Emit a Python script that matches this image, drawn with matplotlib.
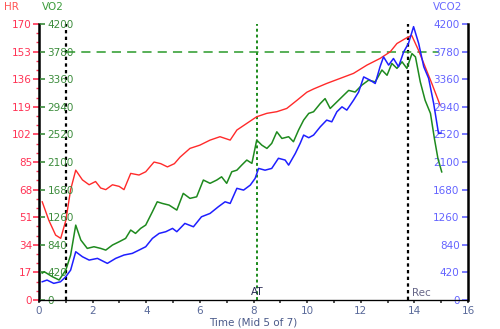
import matplotlib
matplotlib.use("Agg")
import matplotlib.pyplot as plt
from matplotlib.ticker import MultipleLocator, AutoMinorLocator

# data (time in minutes)
hr_t = [0.12, 0.37, 0.62, 0.81, 1.0, 1.18, 1.37, 1.62, 1.87, 2.11, 2.30, 2.49, 2.74, 2.99, 3.17,
        3.42, 3.73, 3.98, 4.29, 4.54, 4.79, 5.05, 5.26, 5.63, 6.0, 6.38, 6.75, 7.13, 7.38, 7.75,
        8.12, 8.5, 8.87, 9.24, 9.62, 9.99, 10.24, 10.73, 11.23, 11.73, 12.23, 12.72, 13.1, 13.35,
        13.66, 13.9, 14.15, 14.4, 14.65, 14.96]
hr = [60.5, 49, 40, 38, 49, 68, 80, 74, 71, 73, 69, 68, 71, 70, 68,
      78, 77, 79, 85, 84, 82, 84, 88, 93.4, 95.4, 98.5, 100.6, 98.5, 104.7, 108.8,
      112.9, 115, 116, 118, 123, 128, 130, 133.4, 136.5, 139.6, 144.7, 148.8, 152.9, 158,
      161, 163, 154, 143.7, 133.4, 120]

vo2_t = [0.12, 0.2, 0.5, 0.75, 1.0, 1.18, 1.37, 1.56, 1.80, 2.05, 2.30, 2.49, 2.74, 2.99, 3.23,
         3.42, 3.60, 3.79, 3.98, 4.23, 4.41, 4.60, 4.85, 5.14, 5.38, 5.63, 5.88, 6.13, 6.38, 6.63,
         6.81, 7.0, 7.19, 7.38, 7.56, 7.75, 7.94, 8.12, 8.31, 8.5, 8.68, 8.87, 9.06, 9.31, 9.49,
         9.68, 9.87, 10.06, 10.24, 10.49, 10.67, 10.86, 11.11, 11.36, 11.55, 11.79, 12.04, 12.29,
         12.54, 12.79, 12.98, 13.16, 13.35, 13.54, 13.72, 13.91, 14.04, 14.22, 14.4, 14.6, 14.75,
         14.88, 15.02]
vo2 = [410, 430, 355, 305, 456, 685, 1140, 913, 786, 811, 786, 760, 837, 887, 938,
       1065, 1014, 1090, 1141, 1344, 1495, 1470, 1445, 1369, 1623, 1547, 1571, 1826, 1776, 1826,
       1875, 1776, 1952, 1976, 2053, 2130, 2080, 2434, 2357, 2307, 2384, 2560, 2459, 2485, 2409,
       2586, 2738, 2840, 2865, 2990, 3065, 2915, 3015, 3115, 3190, 3165, 3270, 3345,
       3320, 3500, 3420, 3600, 3525, 3625, 3525, 3750, 3700, 3320, 3040, 2840, 2450,
       2150, 1950]

vco2_t = [0.12, 0.3, 0.55, 0.8, 1.0, 1.18, 1.37, 1.62, 1.87, 2.18, 2.55, 2.86, 3.17, 3.48, 3.73,
          3.98, 4.23, 4.48, 4.73, 4.98, 5.14, 5.44, 5.76, 6.06, 6.38, 6.69, 6.94, 7.13, 7.38, 7.63,
          7.88, 8.06, 8.19, 8.43, 8.68, 8.93, 9.18, 9.31, 9.56, 9.74, 9.87, 10.06, 10.24, 10.49,
          10.73, 10.92, 11.11, 11.3, 11.48, 11.73, 11.92, 12.11, 12.35, 12.54, 12.72, 12.85, 13.04,
          13.22, 13.41, 13.6, 13.78, 13.97, 14.16, 14.35, 14.53, 14.72, 14.9, 14.98]
vco2 = [278, 304, 254, 278, 355, 456, 735, 659, 608, 634, 558, 634, 685, 710, 760,
        811, 938, 1014, 1040, 1090, 1040, 1166, 1115, 1267, 1318, 1420, 1495, 1470, 1700, 1673,
        1749, 1851, 2003, 1976, 2003, 2157, 2130, 2053, 2231, 2384, 2510, 2470, 2510, 2636,
        2738, 2712, 2865, 2940, 2890, 3040, 3165, 3395, 3345, 3295, 3550, 3700, 3575,
        3675, 3550, 3775, 3905, 4160, 3905, 3550, 3375, 2990, 2535, 2540]

hr_ticks = [0, 17, 34, 51, 68, 85, 102, 119, 136, 153, 170]
gas_ticks = [0, 420, 840, 1260, 1680, 2100, 2520, 2940, 3360, 3780, 4200]
x_ticks = [0, 2, 4, 6, 8, 10, 12, 14, 16]

ex_start, at_time, rec_start = 1.0, 8.13, 13.78
hr_ref = 153

RED = '#ff2a2a'
GREEN = '#1e8a1e'
BLUE = '#1f1fff'

fig = plt.figure(figsize=(5, 3.29), dpi=100)
ax = fig.add_axes([0.078, 0.088, 0.858, 0.839])
ax_g = ax.twinx()
ax_v = ax.twinx()

ax.set_xlim(0, 16)
ax.set_ylim(0, 170)
ax_g.set_ylim(0, 4200)
ax_v.set_ylim(0, 4200)

for a in (ax, ax_g, ax_v):
    a.spines['top'].set_visible(False)
    a.patch.set_visible(False)
ax.spines['left'].set_linewidth(1.8)
ax_v.spines['right'].set_linewidth(1.8)
ax.spines['right'].set_visible(False)
ax_g.spines['right'].set_visible(False)
ax_g.spines['left'].set_visible(False)

# markers
ax.axvline(ex_start, color='black', ls=(0, (1.5, 1.5)), lw=1.6)
ax.axvline(rec_start, color='black', ls=(0, (1.5, 1.5)), lw=1.6)
ax.axvline(at_time, color='#1a8a1a', ls=(0, (1.5, 1.5)), lw=1.4)
ax.plot([ex_start, 14.9], [hr_ref, hr_ref], color='#2a9a2a', ls=(0, (6, 4)), lw=1.1)

ax.plot(hr_t, hr, color=RED, lw=1.0)
ax_v.plot(vo2_t, vo2, color=GREEN, lw=1.1)
ax_v.plot(vco2_t, vco2, color=BLUE, lw=1.1)

# HR axis (left, outside)
ax.set_yticks(hr_ticks)
ax.yaxis.set_minor_locator(AutoMinorLocator(3))
ax.tick_params(axis='y', which='major', colors='#ff3355', length=4, width=1.2, labelsize=7.5, pad=1)
ax.tick_params(axis='y', which='minor', colors='#ff3355', length=2.5, width=1.0)

# VO2 axis (left, labels inside)
ax_g.yaxis.tick_left()
ax_g.set_yticks(gas_ticks)
ax_g.tick_params(axis='y', direction='in', colors='#3c8c3c', length=4, width=1.2,
                 labelsize=7.5, pad=-6)
for lab in ax_g.get_yticklabels():
    lab.set_horizontalalignment('left')

# VCO2 axis (right, labels inside)
ax_v.set_yticks(gas_ticks)
ax_v.tick_params(axis='y', direction='in', colors='#6464ff', length=4, width=1.2,
                 labelsize=7.5, pad=-6)
for lab in ax_v.get_yticklabels():
    lab.set_horizontalalignment('right')

# time axis
ax.set_xticks(x_ticks)
ax.xaxis.set_minor_locator(MultipleLocator(1))
ax.tick_params(axis='x', which='both', colors='#333333', length=2.5, width=1.2,
               labelsize=7.5, labelcolor='#5a6a9a', pad=2)
ax.set_xlabel('Time (Mid 5 of 7)', fontsize=7.5, color='#4a5a8a', labelpad=1)

ax.text(at_time, 5, 'AT', ha='center', va='center', fontsize=7.5, color='#2a2a55')
ax.text(rec_start + 0.15, 4.5, 'Rec', ha='left', va='center', fontsize=7.5, color='#666688')

fig.text(0.008, 0.978, 'HR', color='#ff5555', fontsize=7.5, va='center', ha='left')
fig.text(0.084, 0.978, 'VO2', color='#3c9c3c', fontsize=7.5, va='center', ha='left')
fig.text(0.866, 0.978, 'VCO2', color='#6a6aff', fontsize=7.5, va='center', ha='left')

fig.savefig('out.png', dpi=100)
